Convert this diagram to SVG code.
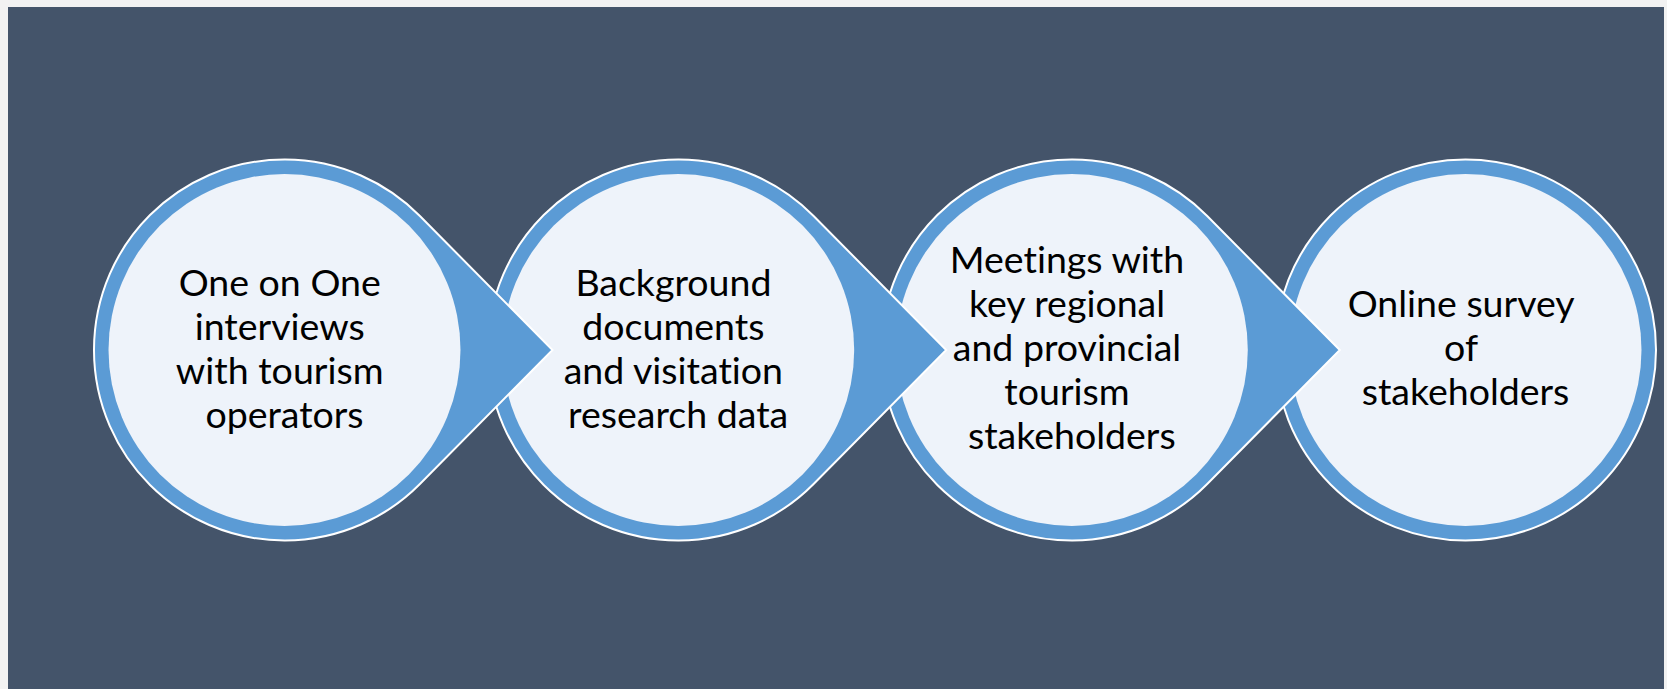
<svg xmlns="http://www.w3.org/2000/svg" width="1667" height="689" viewBox="0 0 1667 689">
  <style>
    .ring { fill: #5b9bd5; stroke: #ffffff; stroke-width: 2; stroke-linejoin: miter; }
    .core { fill: #eef3fa; }
    .label { font-family: Lato, "Liberation Sans", sans-serif; font-size: 37.5px; fill: #000000; text-anchor: middle; font-variant-ligatures: none; }
  </style>
  <!-- page frame and slide background -->
  <rect x="0" y="0" width="1667" height="689" fill="#f2f2f2"/>
  <rect x="8" y="7" width="1656" height="682" fill="#44546a"/>

  <!-- connectors: the pointed tails are part of each step shape -->
  <g id="connectors"></g>

  <!-- steps are painted right to left so each tail sits over the next circle -->
  <g id="step4">
    <circle class="ring" cx="1465.5" cy="350" r="190.5"/>
    <circle class="core" cx="1465.5" cy="350" r="176"/>
    <text class="label">
      <tspan x="1465.5" y="317">Online survey</tspan>
      <tspan x="1465.5" y="361">of</tspan>
      <tspan x="1465.5" y="405">stakeholders</tspan>
    </text>
  </g>

  <g id="step3">
    <path class="ring" d="M1207.2 216 L1339.8 350 L1207.2 484 A190.5 190.5 0 1 1 1207.2 216 Z"/>
    <circle class="core" cx="1071.8" cy="350" r="176"/>
    <text class="label">
      <tspan x="1071.8" y="273">Meetings with</tspan>
      <tspan x="1071.8" y="317">key regional</tspan>
      <tspan x="1071.8" y="361">and provincial</tspan>
      <tspan x="1071.8" y="405">tourism</tspan>
      <tspan x="1071.8" y="449">stakeholders</tspan>
    </text>
  </g>

  <g id="step2">
    <path class="ring" d="M813.6 216 L946.2 350 L813.6 484 A190.5 190.5 0 1 1 813.6 216 Z"/>
    <circle class="core" cx="678.2" cy="350" r="176"/>
    <text class="label">
      <tspan x="678.2" y="296">Background</tspan>
      <tspan x="678.2" y="340">documents</tspan>
      <tspan x="678.2" y="384">and visitation</tspan>
      <tspan x="678.2" y="428">research data</tspan>
    </text>
  </g>

  <g id="step1">
    <path class="ring" d="M419.9 216 L552.5 350 L419.9 484 A190.5 190.5 0 1 1 419.9 216 Z"/>
    <circle class="core" cx="284.5" cy="350" r="176"/>
    <text class="label">
      <tspan x="284.5" y="296">One on One</tspan>
      <tspan x="284.5" y="340">interviews</tspan>
      <tspan x="284.5" y="384">with tourism</tspan>
      <tspan x="284.5" y="428">operators</tspan>
    </text>
  </g>
</svg>
